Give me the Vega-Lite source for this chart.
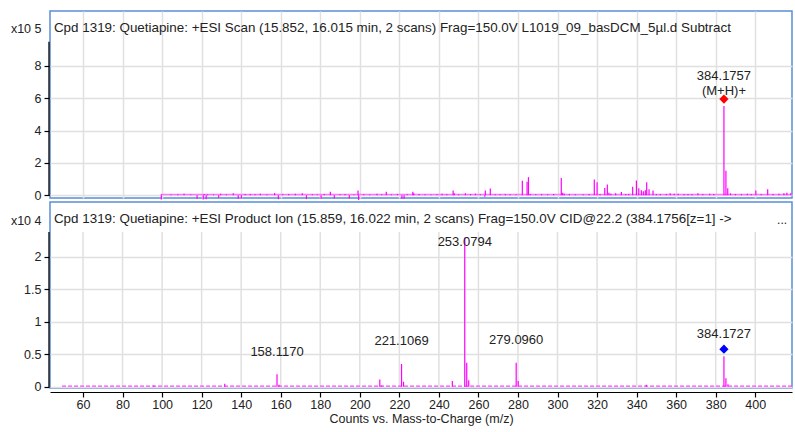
{
  "$schema": "https://vega.github.io/schema/vega-lite/v6.json",
  "background": "white",
  "padding": {"left": 9, "top": 10, "right": 0, "bottom": 0},
  "spacing": 4,
  "bounds": "flush",
  "config": {
    "font": "Liberation Sans",
    "view": {"stroke": "#5b8ed6", "strokeWidth": 1.5},
    "axis": {"domainColor": "#000", "tickColor": "#000", "labelColor": "#222", "labelFontSize": 12.5, "titleFontWeight": "normal", "titleColor": "#222", "titleFontSize": 12.5, "gridColor": "#e0e0e0", "gridWidth": 1.5, "tickSize": 5, "tickWidth": 1.2, "domainWidth": 1.2},
    "text": {"font": "Liberation Sans", "color": "#222"}
  },
  "datasets": {
    "grid": [{"mz": 60}, {"mz": 80}, {"mz": 100}, {"mz": 120}, {"mz": 140}, {"mz": 160}, {"mz": 180}, {"mz": 200}, {"mz": 220}, {"mz": 240}, {"mz": 260}, {"mz": 280}, {"mz": 300}, {"mz": 320}, {"mz": 340}, {"mz": 360}, {"mz": 380}, {"mz": 400}],
    "topband": [{"mz": 99.6, "mz2": 418.6, "i": 0.04}],
    "botband": [{"mz": 49.4, "mz2": 418.6, "i": 0.008}],
    "top": [
      {"mz": 99.6, "i": 0.06}, {"mz": 99.6, "i": -0.27}, {"mz": 104.5, "i": 0.05}, {"mz": 108, "i": 0.06}, {"mz": 111.1, "i": 0.1}, {"mz": 114.5, "i": 0.05}, {"mz": 117.7, "i": -0.22}, {"mz": 120.8, "i": -0.27}, {"mz": 121.3, "i": 0.07}, {"mz": 122.3, "i": -0.25}, {"mz": 123, "i": 0.06}, {"mz": 126, "i": 0.05}, {"mz": 128.6, "i": -0.15}, {"mz": 129.6, "i": 0.1}, {"mz": 132.5, "i": 0.06}, {"mz": 136, "i": 0.12}, {"mz": 138.5, "i": -0.22}, {"mz": 140.1, "i": -0.2}, {"mz": 142, "i": 0.07}, {"mz": 144.6, "i": 0.08}, {"mz": 147, "i": 0.06}, {"mz": 149.7, "i": 0.09}, {"mz": 153, "i": 0.06}, {"mz": 156.9, "i": 0.13}, {"mz": 158.8, "i": -0.24}, {"mz": 161, "i": 0.06}, {"mz": 164, "i": 0.07}, {"mz": 167.4, "i": 0.1}, {"mz": 170.9, "i": 0.13}, {"mz": 173, "i": -0.24}, {"mz": 176, "i": 0.06}, {"mz": 178.5, "i": 0.05}, {"mz": 180.4, "i": -0.22}, {"mz": 182, "i": 0.07}, {"mz": 185.1, "i": 0.22}, {"mz": 187.1, "i": -0.2}, {"mz": 190, "i": 0.06}, {"mz": 192.5, "i": 0.07}, {"mz": 194.7, "i": -0.2}, {"mz": 197, "i": 0.05}, {"mz": 199.1, "i": 0.3}, {"mz": 199.4, "i": -0.3}, {"mz": 202, "i": 0.06}, {"mz": 205, "i": 0.05}, {"mz": 208.7, "i": 0.1}, {"mz": 211, "i": 0.06}, {"mz": 213.4, "i": 0.21}, {"mz": 216, "i": 0.06}, {"mz": 219, "i": 0.07}, {"mz": 221.3, "i": -0.22}, {"mz": 222.4, "i": -0.22}, {"mz": 224, "i": 0.06}, {"mz": 226.8, "i": 0.22}, {"mz": 227.3, "i": 0.12}, {"mz": 230, "i": 0.07}, {"mz": 233, "i": 0.06}, {"mz": 236, "i": 0.05}, {"mz": 239, "i": 0.06}, {"mz": 241.6, "i": 0.1}, {"mz": 244, "i": 0.07}, {"mz": 247.2, "i": 0.3}, {"mz": 247.8, "i": 0.12}, {"mz": 250, "i": 0.06}, {"mz": 253.4, "i": 0.12}, {"mz": 256, "i": 0.08}, {"mz": 258.5, "i": 0.1}, {"mz": 261, "i": 0.06}, {"mz": 263.5, "i": 0.3}, {"mz": 263.2, "i": -0.1}, {"mz": 266, "i": 0.42}, {"mz": 268.5, "i": 0.06}, {"mz": 271, "i": 0.06}, {"mz": 273.6, "i": 0.08}, {"mz": 276, "i": 0.06}, {"mz": 279, "i": 0.05}, {"mz": 282.2, "i": 0.89}, {"mz": 284.6, "i": 0.83}, {"mz": 285.3, "i": 1.12}, {"mz": 286.2, "i": 0.08}, {"mz": 289, "i": 0.06}, {"mz": 292, "i": 0.07}, {"mz": 295, "i": 0.06}, {"mz": 298, "i": 0.08}, {"mz": 301.9, "i": 1.06}, {"mz": 302.6, "i": 0.15}, {"mz": 303.4, "i": 0.1}, {"mz": 306, "i": 0.07}, {"mz": 309, "i": 0.06}, {"mz": 313, "i": 0.06}, {"mz": 316, "i": 0.08}, {"mz": 318.6, "i": 0.97}, {"mz": 320.0, "i": 0.81}, {"mz": 321.5, "i": 0.08}, {"mz": 323.9, "i": 0.45}, {"mz": 325.2, "i": 0.66}, {"mz": 326, "i": 0.15}, {"mz": 327, "i": 0.1}, {"mz": 329.4, "i": 0.12}, {"mz": 332.3, "i": 0.2}, {"mz": 334.5, "i": 0.08}, {"mz": 336, "i": 0.07}, {"mz": 338, "i": 0.52}, {"mz": 339.9, "i": 0.91}, {"mz": 341.1, "i": 0.43}, {"mz": 342.4, "i": 0.31}, {"mz": 343.4, "i": 0.25}, {"mz": 344.4, "i": 0.31}, {"mz": 345.1, "i": 0.81}, {"mz": 346.3, "i": 0.37}, {"mz": 348.3, "i": 0.29}, {"mz": 350, "i": 0.08}, {"mz": 352, "i": 0.07}, {"mz": 355, "i": 0.08}, {"mz": 357, "i": 0.12}, {"mz": 359, "i": 0.1}, {"mz": 361, "i": 0.1}, {"mz": 364, "i": 0.08}, {"mz": 366, "i": 0.07}, {"mz": 368, "i": 0.08}, {"mz": 371, "i": 0.12}, {"mz": 373.5, "i": 0.08}, {"mz": 377, "i": 0.1}, {"mz": 379, "i": 0.07}, {"mz": 384.1757, "i": 5.52}, {"mz": 385.18, "i": 1.51}, {"mz": 386.1, "i": 0.43}, {"mz": 387.5, "i": 0.12}, {"mz": 390, "i": 0.08}, {"mz": 393, "i": 0.07}, {"mz": 396, "i": 0.1}, {"mz": 398, "i": 0.07}, {"mz": 400.3, "i": 0.29}, {"mz": 403, "i": 0.08}, {"mz": 406.3, "i": 0.37}, {"mz": 409, "i": 0.07}, {"mz": 412, "i": 0.1}, {"mz": 414.5, "i": 0.12}, {"mz": 416, "i": 0.15}, {"mz": 418, "i": 0.12}
    ],
    "toplab": [{"mz": 384.1757, "i": 5.52, "label": "384.1757\n(M+H)+"}],
    "bot": [
      {"mz": 95.8, "i": 0.02}, {"mz": 131.7, "i": 0.045}, {"mz": 158.117, "i": 0.19}, {"mz": 159.12, "i": 0.03}, {"mz": 210.1, "i": 0.11}, {"mz": 211.1, "i": 0.02}, {"mz": 221.1069, "i": 0.35}, {"mz": 222.1, "i": 0.077}, {"mz": 246.8, "i": 0.087}, {"mz": 253.0794, "i": 2.29}, {"mz": 254.08, "i": 0.37}, {"mz": 255.08, "i": 0.1}, {"mz": 279.096, "i": 0.37}, {"mz": 280.1, "i": 0.087}, {"mz": 344.9, "i": 0.03}, {"mz": 384.1727, "i": 0.47}, {"mz": 385.18, "i": 0.13}, {"mz": 386.2, "i": 0.036}
    ],
    "botlab": [
      {"mz": 158.117, "i": 0.19, "label": "158.1170"},
      {"mz": 221.1069, "i": 0.35, "label": "221.1069"},
      {"mz": 279.096, "i": 0.37, "label": "279.0960"},
      {"mz": 384.1727, "i": 0.47, "label": "384.1727"}
    ],
    "botlabtop": [{"mz": 253.0794, "i": 2.29, "label": "253.0794"}],
    "botmark": [{"mz": 384.1727, "i": 0.47}]
  },
  "vconcat": [
    {
      "width": 742,
      "height": 187,
      "layer": [
        {
          "data": {"name": "topband"},
          "mark": {"type": "rule", "color": "#ff77ff", "strokeWidth": 1.5},
          "encoding": {
            "x": {"field": "mz", "type": "quantitative", "scale": {"domain": [43.3, 418.6], "nice": false, "zero": false},
              "axis": {"values": [60, 80, 100, 120, 140, 160, 180, 200, 220, 240, 260, 280, 300, 320, 340, 360, 380, 400], "labels": false, "ticks": false, "domain": false, "grid": true, "title": null}},
            "x2": {"field": "mz2"},
            "y": {"field": "i", "type": "quantitative", "scale": {"domain": [-0.17, 11.4], "nice": false, "zero": false},
              "axis": {"values": [0, 2, 4, 6, 8], "format": "~g", "domain": false, "grid": true, "offset": 1, "labelPadding": 3, "title": "x10 5", "titleAngle": 0, "titleAlign": "right", "titleBaseline": "middle", "titleX": -8, "titleY": 17}}
          }
        },
        {
          "data": {"name": "top"},
          "mark": {"type": "rule", "color": "#ff00ff", "strokeWidth": 1.2},
          "encoding": {
            "x": {"field": "mz", "type": "quantitative", "scale": {"domain": [43.3, 418.6], "nice": false, "zero": false},
              "axis": {"values": [60, 80, 100, 120, 140, 160, 180, 200, 220, 240, 260, 280, 300, 320, 340, 360, 380, 400], "labels": false, "ticks": false, "domain": false, "grid": true, "title": null}},
            "y": {"field": "i", "type": "quantitative", "scale": {"domain": [-0.17, 11.4], "nice": false, "zero": false},
              "axis": {"values": [0, 2, 4, 6, 8], "format": "~g", "domain": false, "grid": true, "offset": 1, "labelPadding": 3, "title": "x10 5", "titleAngle": 0, "titleAlign": "right", "titleBaseline": "middle", "titleX": -8, "titleY": 17}},
            "y2": {"datum": 0}
          }
        },
        {
          "data": {"name": "toplab"},
          "mark": {"type": "rule", "color": "#000", "strokeWidth": 1.3, "xOffset": -1},
          "encoding": {
            "x": {"datum": 43.3, "type": "quantitative", "scale": {"domain": [43.3, 418.6], "nice": false, "zero": false},
              "axis": {"values": [60, 80, 100, 120, 140, 160, 180, 200, 220, 240, 260, 280, 300, 320, 340, 360, 380, 400], "labels": false, "ticks": false, "domain": false, "grid": true, "title": null}},
            "y": {"datum": -0.05, "type": "quantitative", "scale": {"domain": [-0.17, 11.4], "nice": false, "zero": false},
              "axis": {"values": [0, 2, 4, 6, 8], "format": "~g", "domain": false, "grid": true, "offset": 1, "labelPadding": 3, "title": "x10 5", "titleAngle": 0, "titleAlign": "right", "titleBaseline": "middle", "titleX": -8, "titleY": 17}},
            "y2": {"datum": 9.49}
          }
        },
        {
          "data": {"name": "toplab"},
          "mark": {"type": "point", "shape": "diamond", "filled": true, "color": "#ff0000", "size": 85, "opacity": 1, "yOffset": -7},
          "encoding": {
            "x": {"field": "mz", "type": "quantitative", "scale": {"domain": [43.3, 418.6], "nice": false, "zero": false},
              "axis": {"values": [60, 80, 100, 120, 140, 160, 180, 200, 220, 240, 260, 280, 300, 320, 340, 360, 380, 400], "labels": false, "ticks": false, "domain": false, "grid": true, "title": null}},
            "y": {"field": "i", "type": "quantitative", "scale": {"domain": [-0.17, 11.4], "nice": false, "zero": false},
              "axis": {"values": [0, 2, 4, 6, 8], "format": "~g", "domain": false, "grid": true, "offset": 1, "labelPadding": 3, "title": "x10 5", "titleAngle": 0, "titleAlign": "right", "titleBaseline": "middle", "titleX": -8, "titleY": 17}}
          }
        },
        {
          "data": {"name": "toplab"},
          "mark": {"type": "text", "fontSize": 13, "lineBreak": "\n", "lineHeight": 15, "baseline": "middle", "align": "center", "dy": -30.5},
          "encoding": {
            "x": {"field": "mz", "type": "quantitative", "scale": {"domain": [43.3, 418.6], "nice": false, "zero": false},
              "axis": {"values": [60, 80, 100, 120, 140, 160, 180, 200, 220, 240, 260, 280, 300, 320, 340, 360, 380, 400], "labels": false, "ticks": false, "domain": false, "grid": true, "title": null}},
            "y": {"field": "i", "type": "quantitative", "scale": {"domain": [-0.17, 11.4], "nice": false, "zero": false},
              "axis": {"values": [0, 2, 4, 6, 8], "format": "~g", "domain": false, "grid": true, "offset": 1, "labelPadding": 3, "title": "x10 5", "titleAngle": 0, "titleAlign": "right", "titleBaseline": "middle", "titleX": -8, "titleY": 17}},
            "text": {"field": "label"}
          }
        },
        {
          "data": {"name": "toplab"},
          "mark": {"type": "text", "fontSize": 13.4, "baseline": "middle", "align": "left", "text": "Cpd 1319: Quetiapine: +ESI Scan (15.852, 16.015 min, 2 scans) Frag=150.0V L1019_09_basDCM_5µl.d  Subtract"},
          "encoding": {
            "x": {"datum": 45.3, "type": "quantitative", "scale": {"domain": [43.3, 418.6], "nice": false, "zero": false},
              "axis": {"values": [60, 80, 100, 120, 140, 160, 180, 200, 220, 240, 260, 280, 300, 320, 340, 360, 380, 400], "labels": false, "ticks": false, "domain": false, "grid": true, "title": null}},
            "y": {"datum": 10.33, "type": "quantitative", "scale": {"domain": [-0.17, 11.4], "nice": false, "zero": false},
              "axis": {"values": [0, 2, 4, 6, 8], "format": "~g", "domain": false, "grid": true, "offset": 1, "labelPadding": 3, "title": "x10 5", "titleAngle": 0, "titleAlign": "right", "titleBaseline": "middle", "titleX": -8, "titleY": 17}}
          }
        }
      ]
    },
    {
      "width": 742,
      "height": 186,
      "layer": [
        {
          "data": {"name": "grid"},
          "mark": {"type": "rule", "color": "#e0e0e0", "strokeWidth": 1.5},
          "encoding": {
            "x": {"field": "mz", "type": "quantitative", "scale": {"domain": [43.3, 418.6], "nice": false, "zero": false}},
            "y": {"datum": 0, "type": "quantitative", "scale": {"domain": [-0.02, 2.84], "nice": false, "zero": false}},
            "y2": {"datum": 2.38}
          }
        },
        {
          "data": {"name": "botband"},
          "mark": {"type": "rule", "color": "#ff44ff", "strokeWidth": 1.2, "strokeDash": [4, 2]},
          "encoding": {
            "x": {"field": "mz", "type": "quantitative", "scale": {"domain": [43.3, 418.6], "nice": false, "zero": false},
              "axis": {"values": [60, 80, 100, 120, 140, 160, 180, 200, 220, 240, 260, 280, 300, 320, 340, 360, 380, 400], "grid": false, "offset": 4, "labelPadding": 1, "titlePadding": 2, "title": "Counts vs. Mass-to-Charge (m/z)"}},
            "x2": {"field": "mz2"},
            "y": {"field": "i", "type": "quantitative", "scale": {"domain": [-0.02, 2.84], "nice": false, "zero": false},
              "axis": {"values": [0, 0.5, 1, 1.5, 2], "format": "~g", "domain": false, "grid": true, "offset": 1, "labelPadding": 3, "title": "x10 4", "titleAngle": 0, "titleAlign": "right", "titleBaseline": "middle", "titleX": -8, "titleY": 18}}
          }
        },
        {
          "data": {"name": "bot"},
          "mark": {"type": "rule", "color": "#ff00ff", "strokeWidth": 1.2},
          "encoding": {
            "x": {"field": "mz", "type": "quantitative", "scale": {"domain": [43.3, 418.6], "nice": false, "zero": false},
              "axis": {"values": [60, 80, 100, 120, 140, 160, 180, 200, 220, 240, 260, 280, 300, 320, 340, 360, 380, 400], "grid": false, "offset": 4, "labelPadding": 1, "titlePadding": 2, "title": "Counts vs. Mass-to-Charge (m/z)"}},
            "y": {"field": "i", "type": "quantitative", "scale": {"domain": [-0.02, 2.84], "nice": false, "zero": false},
              "axis": {"values": [0, 0.5, 1, 1.5, 2], "format": "~g", "domain": false, "grid": true, "offset": 1, "labelPadding": 3, "title": "x10 4", "titleAngle": 0, "titleAlign": "right", "titleBaseline": "middle", "titleX": -8, "titleY": 18}},
            "y2": {"datum": 0}
          }
        },
        {
          "data": {"name": "botmark"},
          "mark": {"type": "rule", "color": "#000", "strokeWidth": 1.3, "xOffset": -1},
          "encoding": {
            "x": {"datum": 43.3, "type": "quantitative", "scale": {"domain": [43.3, 418.6], "nice": false, "zero": false},
              "axis": {"values": [60, 80, 100, 120, 140, 160, 180, 200, 220, 240, 260, 280, 300, 320, 340, 360, 380, 400], "grid": false, "offset": 4, "labelPadding": 1, "titlePadding": 2, "title": "Counts vs. Mass-to-Charge (m/z)"}},
            "y": {"datum": -0.01, "type": "quantitative", "scale": {"domain": [-0.02, 2.84], "nice": false, "zero": false},
              "axis": {"values": [0, 0.5, 1, 1.5, 2], "format": "~g", "domain": false, "grid": true, "offset": 1, "labelPadding": 3, "title": "x10 4", "titleAngle": 0, "titleAlign": "right", "titleBaseline": "middle", "titleX": -8, "titleY": 18}},
            "y2": {"datum": 2.38}
          }
        },
        {
          "data": {"name": "botmark"},
          "mark": {"type": "point", "shape": "diamond", "filled": true, "color": "#0000ff", "size": 85, "opacity": 1, "yOffset": -7},
          "encoding": {
            "x": {"field": "mz", "type": "quantitative", "scale": {"domain": [43.3, 418.6], "nice": false, "zero": false},
              "axis": {"values": [60, 80, 100, 120, 140, 160, 180, 200, 220, 240, 260, 280, 300, 320, 340, 360, 380, 400], "grid": false, "offset": 4, "labelPadding": 1, "titlePadding": 2, "title": "Counts vs. Mass-to-Charge (m/z)"}},
            "y": {"field": "i", "type": "quantitative", "scale": {"domain": [-0.02, 2.84], "nice": false, "zero": false},
              "axis": {"values": [0, 0.5, 1, 1.5, 2], "format": "~g", "domain": false, "grid": true, "offset": 1, "labelPadding": 3, "title": "x10 4", "titleAngle": 0, "titleAlign": "right", "titleBaseline": "middle", "titleX": -8, "titleY": 18}}
          }
        },
        {
          "data": {"name": "botlab"},
          "mark": {"type": "text", "fontSize": 13, "baseline": "middle", "align": "center", "dy": -22.5},
          "encoding": {
            "x": {"field": "mz", "type": "quantitative", "scale": {"domain": [43.3, 418.6], "nice": false, "zero": false},
              "axis": {"values": [60, 80, 100, 120, 140, 160, 180, 200, 220, 240, 260, 280, 300, 320, 340, 360, 380, 400], "grid": false, "offset": 4, "labelPadding": 1, "titlePadding": 2, "title": "Counts vs. Mass-to-Charge (m/z)"}},
            "y": {"field": "i", "type": "quantitative", "scale": {"domain": [-0.02, 2.84], "nice": false, "zero": false},
              "axis": {"values": [0, 0.5, 1, 1.5, 2], "format": "~g", "domain": false, "grid": true, "offset": 1, "labelPadding": 3, "title": "x10 4", "titleAngle": 0, "titleAlign": "right", "titleBaseline": "middle", "titleX": -8, "titleY": 18}},
            "text": {"field": "label"}
          }
        },
        {
          "data": {"name": "botlabtop"},
          "mark": {"type": "text", "fontSize": 13, "baseline": "middle", "align": "center", "dy": 4},
          "encoding": {
            "x": {"field": "mz", "type": "quantitative", "scale": {"domain": [43.3, 418.6], "nice": false, "zero": false},
              "axis": {"values": [60, 80, 100, 120, 140, 160, 180, 200, 220, 240, 260, 280, 300, 320, 340, 360, 380, 400], "grid": false, "offset": 4, "labelPadding": 1, "titlePadding": 2, "title": "Counts vs. Mass-to-Charge (m/z)"}},
            "y": {"field": "i", "type": "quantitative", "scale": {"domain": [-0.02, 2.84], "nice": false, "zero": false},
              "axis": {"values": [0, 0.5, 1, 1.5, 2], "format": "~g", "domain": false, "grid": true, "offset": 1, "labelPadding": 3, "title": "x10 4", "titleAngle": 0, "titleAlign": "right", "titleBaseline": "middle", "titleX": -8, "titleY": 18}},
            "text": {"field": "label"}
          }
        },
        {
          "data": {"name": "botmark"},
          "mark": {"type": "text", "fontSize": 13.4, "baseline": "middle", "align": "left", "text": "Cpd 1319: Quetiapine: +ESI Product Ion (15.859, 16.022 min, 2 scans) Frag=150.0V CID@22.2 (384.1756[z=1] ->"},
          "encoding": {
            "x": {"datum": 45.3, "type": "quantitative", "scale": {"domain": [43.3, 418.6], "nice": false, "zero": false},
              "axis": {"values": [60, 80, 100, 120, 140, 160, 180, 200, 220, 240, 260, 280, 300, 320, 340, 360, 380, 400], "grid": false, "offset": 4, "labelPadding": 1, "titlePadding": 2, "title": "Counts vs. Mass-to-Charge (m/z)"}},
            "y": {"datum": 2.58, "type": "quantitative", "scale": {"domain": [-0.02, 2.84], "nice": false, "zero": false},
              "axis": {"values": [0, 0.5, 1, 1.5, 2], "format": "~g", "domain": false, "grid": true, "offset": 1, "labelPadding": 3, "title": "x10 4", "titleAngle": 0, "titleAlign": "right", "titleBaseline": "middle", "titleX": -8, "titleY": 18}}
          }
        },
        {
          "data": {"name": "botmark"},
          "mark": {"type": "text", "fontSize": 12, "baseline": "middle", "align": "center", "text": "..."},
          "encoding": {
            "x": {"datum": 413.6, "type": "quantitative", "scale": {"domain": [43.3, 418.6], "nice": false, "zero": false},
              "axis": {"values": [60, 80, 100, 120, 140, 160, 180, 200, 220, 240, 260, 280, 300, 320, 340, 360, 380, 400], "grid": false, "offset": 4, "labelPadding": 1, "titlePadding": 2, "title": "Counts vs. Mass-to-Charge (m/z)"}},
            "y": {"datum": 2.56, "type": "quantitative", "scale": {"domain": [-0.02, 2.84], "nice": false, "zero": false},
              "axis": {"values": [0, 0.5, 1, 1.5, 2], "format": "~g", "domain": false, "grid": true, "offset": 1, "labelPadding": 3, "title": "x10 4", "titleAngle": 0, "titleAlign": "right", "titleBaseline": "middle", "titleX": -8, "titleY": 18}}
          }
        }
      ]
    }
  ]
}
